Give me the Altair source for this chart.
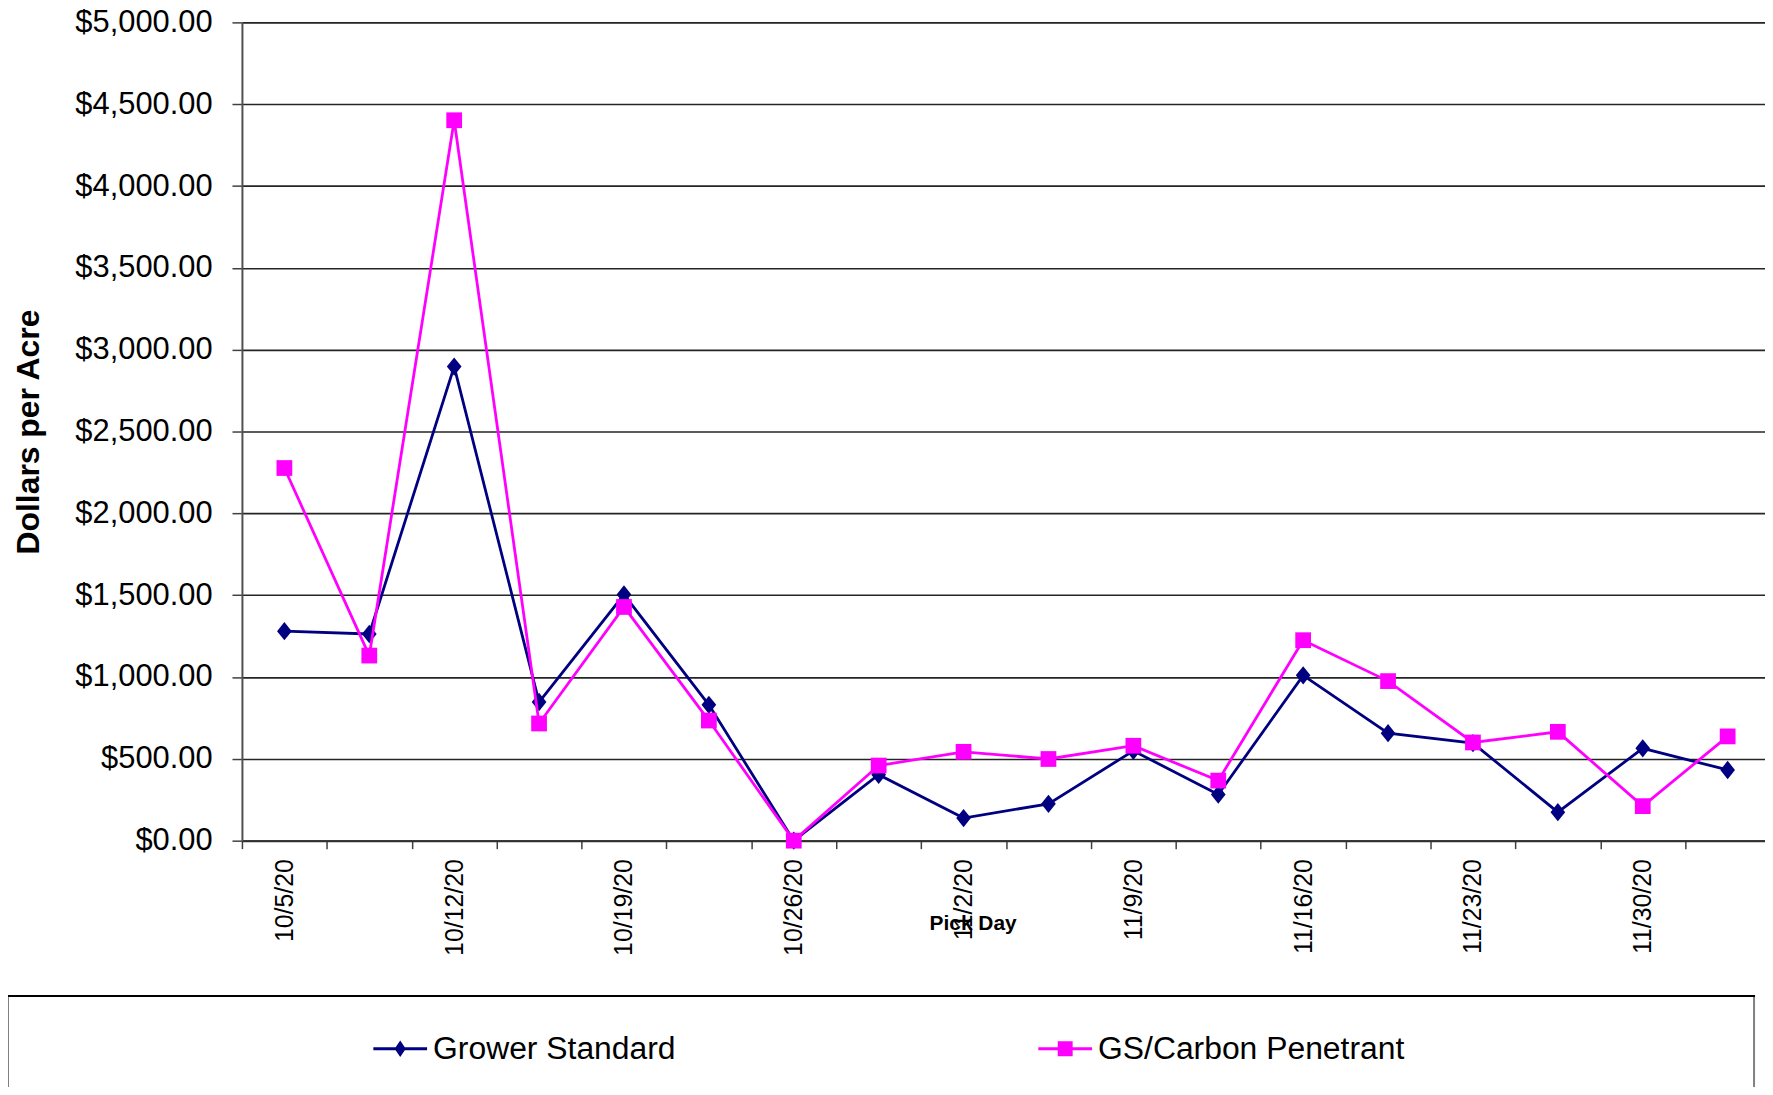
import altair as alt
import pandas as pd

# ---- data ----
pick_days = ["10/5/20", "10/8/20", "10/12/20", "10/15/20", "10/19/20", "10/22/20",
             "10/26/20", "10/29/20", "11/2/20", "11/5/20", "11/9/20", "11/12/20",
             "11/16/20", "11/19/20", "11/23/20", "11/26/20", "11/30/20", "12/3/20"]
grower_standard = [1280, 1263, 2897, 847, 1504, 830, 0, 403, 138, 225,
                   549, 282, 1010, 657, 596, 174, 564, 432]
gs_carbon = [2277, 1131, 4402, 716, 1428, 734, 0, 459, 543, 499,
             580, 367, 1225, 975, 600, 665, 211, 637]
series_names = ["Grower Standard", "GS/Carbon Penetrant"]
series_colors = ["#000080", "#FF00FF"]
y_ticks = list(range(0, 5001, 500))

rows = []
for i, d in enumerate(pick_days):
    rows.append({"idx": i, "day": d, "series": series_names[0], "value": grower_standard[i]})
for i, d in enumerate(pick_days):
    rows.append({"idx": i, "day": d, "series": series_names[1], "value": gs_carbon[i]})
df = pd.DataFrame(rows)

FONT = "Liberation Sans"
n = len(pick_days)
labels_js = "[" + ",".join("'%s'" % d for d in pick_days) + "]"

x_values = []
for i in range(n):
    x_values.append(i - 0.5)
    if i % 2 == 0:
        x_values.append(i)

x_axis = alt.Axis(
    values=x_values,
    labelExpr="datum.value % 2 == 0 ? " + labels_js + "[datum.value] : ''",
    labelAngle=270, labelAlign="right", labelBaseline="middle",
    labelFont=FONT, labelFontSize=25, labelColor="black", labelPadding=10,
    labelOverlap=False, labelFlush=False,
    tickSize=8, tickColor="#404040", tickWidth=1.5,
    tickOpacity={"condition": {"test": "datum.value % 1 == 0", "value": 0}, "value": 1},
    domainColor="#303030", domainWidth=2, grid=False,
    title="Pick Day", titleFont=FONT, titleFontSize=21, titleFontWeight="bold",
    titleColor="black", titleX=734, titleY=83, titleAlign="center", titleBaseline="middle",
)

y_axis = alt.Axis(
    values=y_ticks, format="$,.2f",
    labelFont=FONT, labelFontSize=31, labelColor="black", labelPadding=20,
    tickSize=10, tickColor="#404040", tickWidth=1.5,
    domainColor="#505050", domainWidth=2,
    grid=True, gridColor="#252525", gridWidth=1.6,
    title="Dollars per Acre", titleFont=FONT, titleFontSize=32, titleFontWeight="bold",
    titleColor="black", titleAngle=270, titleX=-214, titleY=411,
    titleAlign="center", titleBaseline="middle",
)

diamond_path = "M0,-1L0.8,0L0,1L-0.8,0Z"
# legend symbols: a short line (thin filled bar) with the series marker on it
leg_diamond = "M-3.6,-0.2H3.6V0.2H-3.6ZM0,-1.1L0.75,0L0,1.1L-0.75,0Z"
leg_square = "M-3.6,-0.2H3.6V0.2H-3.6ZM-1,-1H1V1H-1Z"

legend = alt.Legend(
    orient="none", legendX=143, legendY=1015, direction="horizontal",
    labelFont=FONT, labelFontSize=32, labelColor="black", labelLimit=0,
    labelOffset=17, columnPadding=364, symbolSize=225, symbolOpacity=1,
    symbolStrokeWidth=0,
)

color = alt.Color("series:N", title=None,
                  scale=alt.Scale(domain=series_names, range=series_colors),
                  legend=legend)
shape = alt.Shape("series:N", title=None,
                  scale=alt.Scale(domain=series_names, range=[leg_diamond, leg_square]),
                  legend=legend)

xenc = alt.X("idx:Q", scale=alt.Scale(domain=[-0.5, 17.44], nice=False, zero=False), axis=x_axis)
yenc = alt.Y("value:Q", scale=alt.Scale(domain=[0, 5000], nice=False), axis=y_axis)

base = alt.Chart(df).encode(x=xenc, y=yenc, color=color)

layers = []

# legend frame
frame = alt.Chart(alt.Data(values=[{"a": 1}])).mark_rect(
    fill="white", stroke="#808080", strokeWidth=2
).encode(x=alt.value(-235), x2=alt.value(1519), y=alt.value(978), y2=alt.value(1300))
frame_top = alt.Chart(alt.Data(values=[{"a": 1}])).mark_rule(
    color="black", strokeWidth=2
).encode(x=alt.value(-236), x2=alt.value(1520), y=alt.value(978))
layers += [frame, frame_top]

shapes = [diamond_path, "square"]
sizes = [340, 250]
for name, shp, sz in zip(series_names, shapes, sizes):
    sub = base.transform_filter(alt.datum.series == name)
    layers.append(sub.mark_line(strokeWidth=2.8))
    layers.append(sub.mark_point(filled=True, opacity=1, size=sz, shape=shp))

# layer that only carries the legend symbols (draws no data)
legend_layer = alt.Chart(df).transform_filter("false").mark_point(
    filled=True, opacity=1, size=225
).encode(x=xenc, y=yenc, color=color, shape=shape)
layers.append(legend_layer)

chart = alt.layer(*layers).properties(
    width=1530, height=822,
    autosize=alt.AutoSizeParams(type="none"),
    padding={"left": 235, "top": 12, "right": 0, "bottom": 245},
).configure_view(fill="#C0C0C0", stroke="transparent").configure(background="white")

chart.save("out.html", embed_options={"renderer": "svg", "actions": False})
